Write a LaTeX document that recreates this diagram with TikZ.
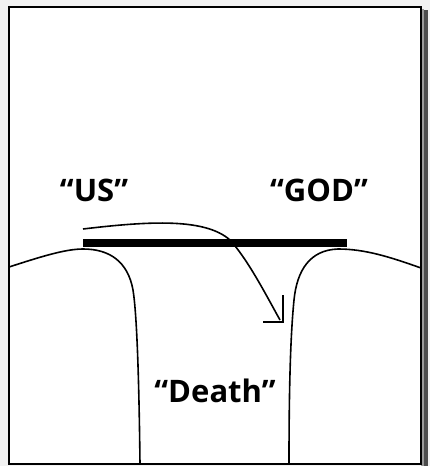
\documentclass[tikz,border=0pt]{standalone}
\usepackage{fontspec}
\setmainfont{Open Sans}
\begin{document}
\begin{tikzpicture}[x=1pt,y=-1pt,
  curve/.style={line width=1.6pt,line join=round},
  lbl/.style={font=\bfseries\fontsize{31}{33}\selectfont,inner sep=0pt,anchor=base}]
\useasboundingbox (0,0) rectangle (430,466);
\fill[gray!10] (0,0) rectangle (430,466);
\fill[black!70] (423,10) rectangle (428,466);
\fill[black!40] (421,9) rectangle (424,466);
\fill[white] (9,7) rectangle (421,464);
\draw[line width=1.5pt] (9,7) rectangle (421,464);
% hills
\draw[curve] (9,267) .. controls (40,257) and (65,249) .. (83,249)
  .. controls (110,249) and (128,262) .. (133,290)
  .. controls (137,315) and (139,380) .. (140,464);
\draw[curve] (421,268) .. controls (390,257) and (365,249) .. (338,249)
  .. controls (310,250) and (297,270) .. (294,300)
  .. controls (290,340) and (289,400) .. (289,464);
% bar
\node (bar) [draw=none,fill=black,minimum width=264pt,minimum height=8pt,inner sep=0pt] at (215,243) {};
% arrow
\coordinate (a0) at (83,229);
\coordinate (a1) at (280,320);
\draw[curve] (a0) .. controls (150,221) and (205,218) .. (230,240)
  .. controls (248,260) and (265,293) .. (a1);
\draw[line width=1.2pt] (283,295) -- (283,322) -- (263,322);
% labels
\node[lbl] (us) at (94,201) {“US”};
\node[lbl] (god) at (319,201) {“GOD”};
\node[lbl] (death) at (215,402) {“Death”};
\end{tikzpicture}
\end{document}
